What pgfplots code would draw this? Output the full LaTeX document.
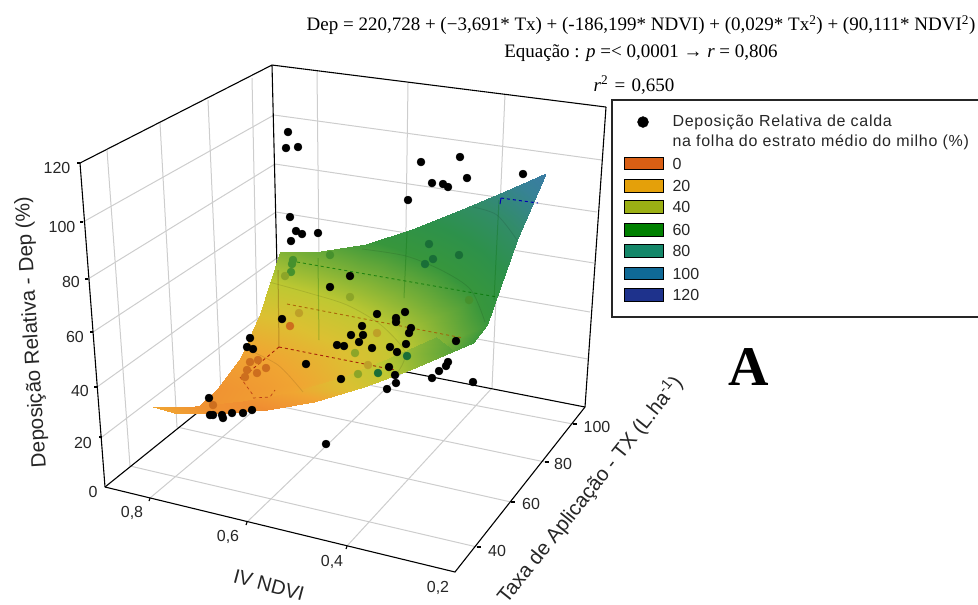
\documentclass[border=0pt]{standalone}
\usepackage{fontspec}
\usepackage{pgfplots}
\pgfplotsset{compat=1.18}
\setmainfont{Liberation Sans}
\newfontfamily\tnr{Liberation Serif}
\definecolor{gridg}{RGB}{205,205,205}
\definecolor{d1}{RGB}{25,110,55}
\definecolor{d2}{RGB}{70,145,45}
\definecolor{d3}{RGB}{140,165,40}
\definecolor{d4}{RGB}{190,160,40}
\definecolor{d5}{RGB}{205,110,30}
\begin{document}
\begin{tikzpicture}
\useasboundingbox (0,0) rectangle (978pt,605pt);
\begin{axis}[
  at={(0,0)},anchor=south west,
  width=978pt,height=605pt,scale only axis,
  xmin=0,xmax=978,ymin=0,ymax=605,y dir=reverse,
  hide axis,clip=false,view={0}{90},
  point meta min=0,point meta max=100,
  colormap={dep}{rgb255=(235,125,45) rgb255=(240,145,50) rgb255=(240,165,50) rgb255=(220,192,50) rgb255=(190,200,50) rgb255=(120,175,55) rgb255=(55,150,60) rgb255=(45,145,75) rgb255=(50,140,105) rgb255=(55,130,150) rgb255=(60,120,170)},
]
% wall and floor grid
\def\G#1{\addplot[gridg,line width=1pt] coordinates {#1};}
\G{(102,437)(278,303)} \G{(97,387)(277,258)} \G{(93,332)(276,212)} \G{(88,279)(275,164)} \G{(83,222)(274,115)}
\G{(278,303)(588,359)} \G{(277,258)(590,312)} \G{(276,212)(594,263)} \G{(275,164)(597,212)} \G{(274,115)(602,160)}
\G{(107,150)(130,466)} \G{(160,123)(177,427)} \G{(208,100)(221,394)} \G{(252,78)(258,364)}
\G{(317,71)(320,355)} \G{(408,83)(404,371)} \G{(505,94)(492,388)}
\G{(150,498)(320,355)} \G{(247,522)(404,371)} \G{(347,546)(492,388)}
\G{(130,466)(477,547)} \G{(177,427)(511,502)} \G{(221,394)(545,462)} \G{(258,364)(573,424)}
% frame
\def\K#1{\addplot[black,line width=1.1pt] coordinates {#1};}
\K{(80,163)(272,65)(606,107)} \K{(80,163)(105,487)} \K{(272,65)(279,347)} \K{(606,107)(585,407)}
\K{(105,487)(279,347)(585,407)} \K{(105,487)(455,572)(585,407)}
\K{(80,163)(77,163)} \K{(83,222)(80,222)} \K{(88,279)(85,279)} \K{(93,332)(90,332)} \K{(97,387)(94,387)} \K{(102,437)(99,437)}
\K{(150,498)(149,501)} \K{(247,522)(246,525)} \K{(347,546)(346,549)}
\K{(477,547)(481,547)} \K{(511,502)(515,502)} \K{(545,462)(549,462)} \K{(573,424)(577,424)}
% points behind the surface's lower rim
\addplot[only marks,mark=*,mark size=4pt,black] coordinates {(396,383)(387,389)(395,375)(210,415)(213,415)(223,418)(232,413)(243,413)(252,410)(222,415)};
% fitted surface
\addplot3[surf,shader=interp,mesh/rows=7,mesh/cols=7,point meta=\thisrow{m}] table {
x y z m
280.0 252.0 48.5 48.5
321.4 250.5 52.7 52.7
366.0 244.0 58.7 58.7
412.0 229.0 66.5 66.5
459.5 210.0 76.1 76.1
504.5 191.0 86.3 86.3
545.5 173.0 96.6 96.6
259.8 314.0 30.3 30.3
303.0 310.2 34.5 34.5
347.6 304.8 40.5 40.5
393.4 294.3 48.3 48.3
438.0 276.0 57.9 57.9
479.0 257.0 68.1 68.1
517.0 240.0 78.4 78.4
240.9 357.0 17.9 17.9
284.2 354.6 22.1 22.1
329.1 349.3 28.1 28.1
375.1 339.9 35.9 35.9
420.0 325.3 45.5 45.5
462.0 306.0 55.7 55.7
500.0 288.0 66.0 66.0
218.0 388.2 11.3 11.3
263.9 387.6 15.5 15.5
309.4 382.5 21.5 21.5
355.7 373.4 29.3 29.3
403.7 358.6 38.9 38.9
446.0 341.5 49.1 49.1
487.0 325.0 59.4 59.4
198.4 407.2 10.5 10.5
242.8 406.9 14.7 14.7
289.0 402.0 20.7 20.7
336.0 393.0 28.5 28.5
384.5 378.6 38.1 38.1
429.8 361.4 48.3 48.3
472.8 343.3 58.6 58.6
174.1 413.4 15.5 18
219.5 413.5 19.7 10
266.6 409.7 25.7 8
314.4 401.6 33.5 18
363.7 387.2 43.1 33
409.7 369.5 53.3 45
453.6 350.5 63.6 55
153.0 406.5 26.3 20
195.1 405.6 30.5 11
243.5 401.0 36.5 9
292.3 391.8 44.3 20
342.5 377.0 54.0 31
389.3 357.7 64.1 42
436.3 337.3 74.4 51
};
% iso-lines on the surface
\def\C#1{\addplot[black,opacity=.1,line width=.8pt,smooth] coordinates {#1};}
\C{(244,348)(278,365)(303,392)}
\C{(269,282)(309,293)(347,305)(381,325)(405,352)(398,372)}
\C{(362,249)(406,256)(443,271)(471,290)(485,322)}
\C{(473,207)(497,215)(517,240)}
% grid seen through the surface
\addplot[blue!70!black,dashed,line width=1pt] coordinates {(501,198)(538,203)};
\addplot[blue!70!black,line width=1pt] coordinates {(501,198)(500,204)};
\addplot[green!45!black,opacity=.7,dashed,line width=.9pt] coordinates {(297,262)(497,297)};
\addplot[orange!65!black,opacity=.8,dashed,line width=.9pt] coordinates {(287,304)(463,338)};
\addplot[red!60!black,opacity=.8,dashed,line width=.9pt] coordinates {(279,347)(395,370)};
\addplot[red!60!black,opacity=.8,dashed,line width=.9pt] coordinates {(279,347)(243,377)};
\addplot[red!60!black,opacity=.6,dashed,line width=.7pt] coordinates {(240,377)(253,395)};
\addplot[red!60!black,opacity=.6,dashed,line width=.7pt] coordinates {(253,398)(270,397)(275,390)};
\addplot[black!60!green,opacity=.25,line width=1pt] coordinates {(407,232)(404,298)};
\addplot[black!60!green,opacity=.25,line width=1pt] coordinates {(499,200)(494,300)};
\addplot[black!60!green,opacity=.25,line width=1pt] coordinates {(318,258)(319,340)};
\addplot[black!60!orange,opacity=.3,line width=1pt] coordinates {(278,270)(279,347)};
% points seen through the surface
\addplot[only marks,mark=*,mark size=4pt,d1] coordinates {(429,244)(433,259)(425,264)(459,255)(407,356)(378,373)};
\addplot[only marks,mark=*,mark size=4pt,d2] coordinates {(469,300)(330,255)(293,260)(292,264)(291,272)};
\addplot[only marks,mark=*,mark size=4pt,d3] coordinates {(285,276)(350,297)(355,353)(358,374)};
\addplot[only marks,mark=*,mark size=4pt,d4] coordinates {(299,313)(377,333)(368,365)};
\addplot[only marks,mark=*,mark size=4pt,d5] coordinates {(290,326)(250,362)(258,360)(247,370)(245,377)(257,373)(266,368)(213,405)};
% points in front
\addplot[only marks,mark=*,mark size=4pt,black] coordinates {
(288,132)(286,148)(298,147)(290,217)(296,231)(302,234)(291,241)(318,233)
(421,162)(460,157)(467,178)(432,183)(443,184)(448,187)(523,174)(408,200)
(350,276)(330,287)(282,319)(377,314)(405,312)(396,318)(396,322)(362,326)
(411,328)(409,333)(351,335)(363,335)(456,341)
(337,345)(344,346)(372,348)(390,347)(397,352)(406,344)(359,342)
(306,364)(341,379)(389,367)(448,362)(446,366)(439,371)(432,378)(473,382)(326,444)
(250,338)(247,347)(253,349)(209,398)
};
% tick labels
\def\T#1#2{\node[font=\fontsize{16}{16}\selectfont,text=black!85] at (axis cs:#1) {#2};}
\T{57,168}{120} \T{62,227}{100} \T{71,282}{80} \T{75,337}{60} \T{80,391}{40} \T{83,443}{20} \T{93,492}{0}
\T{132,513}{0,8} \T{228,537}{0,6} \T{332,562}{0,4} \T{438,588}{0,2}
\T{497,551}{40} \T{531,504}{60} \T{563,464}{80} \T{597,427}{100}
% axis titles
\node[font=\fontsize{20.6}{20.6}\selectfont,text=black!85,rotate=93.6] at (axis cs:32,332) {Deposição Relativa - Dep (\%)};
\node[font=\fontsize{20}{20}\selectfont,text=black!85,rotate=-15] at (axis cs:269,585) {IV NDVI};
\node[font=\fontsize{20.5}{20.5}\selectfont,text=black!85,rotate=51.5] at (axis cs:590,490) {Taxa de Aplicação - TX (L.ha\textsuperscript{-1})};
% equations
\node[font=\tnr\fontsize{19}{19}\selectfont,text=black] at (axis cs:641,25) {Dep = 220,728 + (−3,691* Tx) + (-186,199* NDVI) + (0,029* Tx\textsuperscript{2}) + (90,111* NDVI\textsuperscript{2})};
\node[font=\tnr\fontsize{19}{19}\selectfont,text=black] at (axis cs:641,53) {Equação : \textit{p} =< 0,0001 → \textit{r} = 0,806};
\node[font=\tnr\fontsize{19}{19}\selectfont,text=black] at (axis cs:634,85) {\textit{r}\textsuperscript{2}\,\,=\,\,0,650};
% legend frame
\addplot[black!85,line width=1.2pt] coordinates {(978,100)(612,100)(612,317)(978,317)};
\addplot[only marks,mark=*,mark size=5.5pt,black] coordinates {(643,122)};
\def\S#1#2#3#4{\addplot[fill={rgb,255:red,#1},draw=black,line width=1pt] coordinates {(624,#2)(663,#2)(663,#3)(624,#3)} --cycle; \node[font=\fontsize{16}{16}\selectfont,text=black!85,anchor=west] at (axis cs:669,#2/2+#3/2+0.5) {#4};}
\S{217;green,95;blue,20}{157}{169}{0}
\S{228;green,160;blue,10}{179}{192}{20}
\S{155;green,175;blue,20}{200}{213}{40}
\S{0;green,128;blue,0}{223}{236}{60}
\S{20;green,135;blue,105}{244}{257}{80}
\S{15;green,105;blue,150}{267}{279}{100}
\S{30;green,50;blue,140}{288}{301}{120}
\node[font=\fontsize{16}{16}\selectfont\addfontfeature{LetterSpace=4.5},text=black!85,anchor=west] at (axis cs:669,122) {Deposição Relativa de calda};
\node[font=\fontsize{16}{16}\selectfont\addfontfeature{LetterSpace=4.5},text=black!85,anchor=west] at (axis cs:669,142) {na folha do estrato médio do milho (\%)};
\node[font=\tnr\bfseries\fontsize{56}{56}\selectfont,text=black] at (axis cs:749,367) {A};
\end{axis}
\end{tikzpicture}
\end{document}
